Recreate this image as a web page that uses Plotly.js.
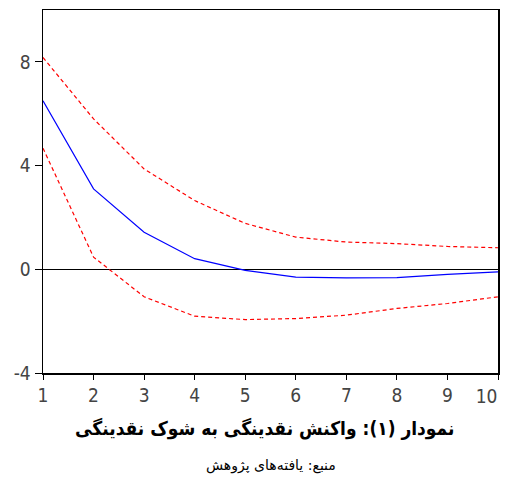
<!DOCTYPE html>
<html>
<head>
<meta charset="utf-8">
<script src="https://cdn.plot.ly/plotly-3.0.1.min.js"></script>
<style>html,body{margin:0;padding:0;background:#fff;}</style>
</head>
<body>
<div id="chart" style="width:507px;height:479px;"></div>
<script>
const periods = [1, 2, 3, 4, 5, 6, 7, 8, 9, 10];
const response = [6.5, 3.1, 1.43, 0.41, -0.04, -0.3, -0.33, -0.32, -0.2, -0.1];
const upperBand = [8.17, 5.8, 3.87, 2.65, 1.77, 1.24, 1.05, 0.99, 0.88, 0.83];
const lowerBand = [4.67, 0.47, -1.06, -1.81, -1.94, -1.9, -1.77, -1.51, -1.32, -1.06];
const yTicks = [-4, 0, 4, 8];
const titleText = "<b>نمودار (۱): واکنش نقدینگی به شوک نقدینگی</b>";
const sourceText = "منبع: یافته‌های پژوهش";

const lastPeriod = periods[periods.length - 1];
const tickFont = {family: 'DejaVu Sans Condensed, DejaVu Sans, sans-serif', size: 19, color: '#444'};

const traces = [
  {x: periods, y: upperBand, mode: 'lines', line: {color: '#ff0000', width: 1.2, dash: '4px,3px'}, hoverinfo: 'skip'},
  {x: periods, y: lowerBand, mode: 'lines', line: {color: '#ff0000', width: 1.2, dash: '4px,3px'}, hoverinfo: 'skip'},
  {x: periods, y: response, mode: 'lines', line: {color: '#0000ff', width: 1.2}, hoverinfo: 'skip'},
  {x: [lastPeriod], y: [null], xaxis: 'x2', mode: 'lines', hoverinfo: 'skip', showlegend: false}
];

const layout = {
  width: 507, height: 479,
  margin: {l: 43, r: 9, t: 10, b: 106},
  paper_bgcolor: '#ffffff', plot_bgcolor: '#ffffff',
  showlegend: false,
  xaxis: {
    range: [1, 10], tickvals: periods,
    ticktext: periods.map(p => p === lastPeriod ? '' : String(p)),
    showgrid: false, zeroline: false,
    showline: true, linecolor: '#000', linewidth: 1.5, mirror: true,
    ticks: 'outside', ticklen: 5, tickcolor: '#000', tickwidth: 1,
    ticklabeloverflow: 'allow',
    tickfont: tickFont
  },
  xaxis2: {
    overlaying: 'x', matches: 'x', anchor: 'y', side: 'bottom',
    range: [1, 10], tickvals: [lastPeriod], ticktext: [String(lastPeriod)],
    ticklabelposition: 'outside left',
    showgrid: false, zeroline: false, showline: false,
    ticks: 'outside', ticklen: 5, tickcolor: 'rgba(0,0,0,0)', tickwidth: 1,
    ticklabelstandoff: 6,
    tickfont: tickFont
  },
  yaxis: {
    range: [-4, 10], tickvals: yTicks, ticktext: yTicks.map(String),
    showgrid: false, zeroline: true, zerolinecolor: '#000', zerolinewidth: 1.5,
    showline: true, linecolor: '#000', linewidth: 1.5, mirror: true,
    ticks: 'outside', ticklen: 7, tickcolor: '#000', tickwidth: 1,
    ticklabeloverflow: 'allow',
    tickfont: tickFont
  },
  annotations: [
    {text: titleText, xref: 'paper', yref: 'paper', x: 0.487, y: -0.152, xanchor: 'center', yanchor: 'middle',
     showarrow: false, font: {family: 'DejaVu Sans Condensed, DejaVu Sans', size: 19, color: '#000'}},
    {text: sourceText, xref: 'paper', yref: 'paper', x: 0.5, y: -0.256, xanchor: 'center', yanchor: 'middle',
     showarrow: false, font: {family: 'DejaVu Sans', size: 14, color: '#000'}}
  ]
};

Plotly.newPlot('chart', traces, layout, {displayModeBar: false, staticPlot: true});
</script>
</body>
</html>
